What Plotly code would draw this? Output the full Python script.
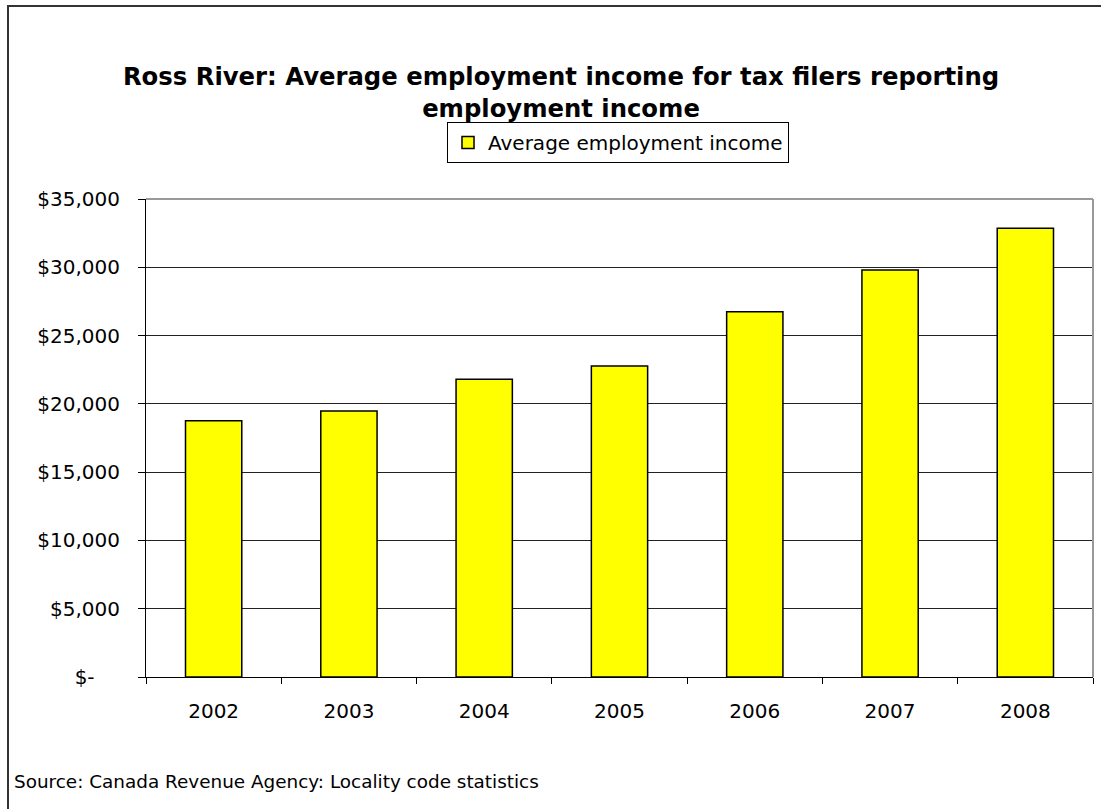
import plotly.graph_objects as go

# Ross River average employment income, 2002-2008
years = ["2002", "2003", "2004", "2005", "2006", "2007", "2008"]
avg_income = [18770, 19480, 21800, 22770, 26750, 29800, 32850]

tick_vals = [0, 5000, 10000, 15000, 20000, 25000, 30000, 35000]
tick_text = ["$-\u00a0\u00a0\u00a0\u00a0", "$5,000", "$10,000", "$15,000", "$20,000",
             "$25,000", "$30,000", "$35,000"]

FONT = "DejaVu Sans, Liberation Sans, Arial, sans-serif"

W, H = 1101, 809
L, R, T, B = 146, 8, 199, 132
plot_w = W - L - R
plot_h = H - T - B


def px_x(px):
    return (px - L) / plot_w


def px_y(py):
    return (H - B - py) / plot_h


fig = go.Figure(
    go.Bar(
        x=years,
        y=avg_income,
        name="Average employment income",
        marker=dict(color="#FFFF00", line=dict(color="#000000", width=1.5)),
    )
)

fig.update_layout(
    width=W,
    height=H,
    margin=dict(l=L, r=R, t=T, b=B, autoexpand=False),
    paper_bgcolor="white",
    plot_bgcolor="white",
    bargap=0.584,
    font=dict(family=FONT, color="#000000"),
    title=dict(
        text="<b>Ross River: Average employment income for tax filers reporting<br>employment income</b>",
        x=561 / W,
        xanchor="center",
        y=1 - 85 / H,
        yanchor="middle",
        font=dict(size=24.3, family=FONT, color="#000000"),
    ),
    showlegend=True,
    legend=dict(
        x=px_x(447),
        y=px_y(122),
        xanchor="left",
        yanchor="top",
        bgcolor="white",
        bordercolor="#000000",
        borderwidth=1,
        font=dict(size=20, family=FONT),
    ),
    xaxis=dict(
        showline=True,
        linecolor="#000000",
        linewidth=1,
        ticks="outside",
        ticklen=6,
        tickcolor="#000000",
        tickson="boundaries",
        showgrid=False,
        tickfont=dict(size=20, family=FONT),
        ticklabelstandoff=16,
    ),
    yaxis=dict(
        range=[0, 35000],
        tickvals=tick_vals,
        ticktext=tick_text,
        showline=True,
        linecolor="#000000",
        linewidth=1,
        ticks="outside",
        ticklen=7,
        tickcolor="#000000",
        showgrid=True,
        gridcolor="#222222",
        gridwidth=1,
        zeroline=False,
        tickfont=dict(size=20, family=FONT),
        ticklabelstandoff=14,
    ),
    shapes=[
        # outer chart frame
        dict(type="rect", xref="paper", yref="paper",
             x0=px_x(8), x1=px_x(1200), y0=px_y(900), y1=px_y(6),
             line=dict(color="#333333", width=2), fillcolor="rgba(0,0,0,0)",
             layer="below"),
        # plot area top and right edges
        dict(type="line", xref="paper", yref="paper",
             x0=0, x1=1, y0=1, y1=1,
             line=dict(color="#999999", width=2)),
        dict(type="line", xref="paper", yref="paper",
             x0=1, x1=1, y0=0, y1=1,
             line=dict(color="#999999", width=2)),
    ],
    annotations=[
        dict(
            text="Source: Canada Revenue Agency: Locality code statistics",
            xref="paper", yref="paper",
            x=px_x(12), y=px_y(782),
            xanchor="left", yanchor="middle",
            showarrow=False,
            font=dict(size=18.4, family=FONT, color="#000000"),
        )
    ],
)

fig.write_html("out.html")
